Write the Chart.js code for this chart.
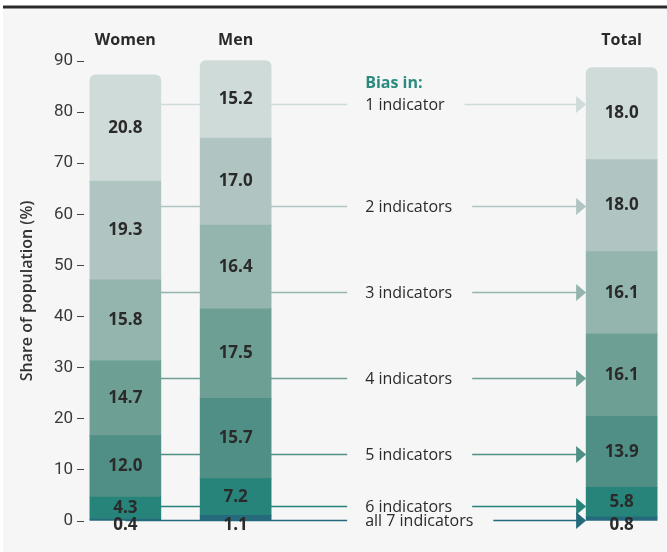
<!DOCTYPE html>
<html>
<head>
<meta charset="utf-8">
<script src="https://cdn.jsdelivr.net/npm/chart.js@4.4.1/dist/chart.umd.min.js"></script>
<style>
  html, body { margin: 0; padding: 0; background: #fff; }
  canvas { display: block; }
</style>
</head>
<body>
<canvas id="chart" width="667" height="552"></canvas>
<script>
// ---- data ----
const groups = ['Women', 'Men', 'Total'];
const indicatorNames = ['1 indicator', '2 indicators', '3 indicators', '4 indicators',
                        '5 indicators', '6 indicators', 'all 7 indicators'];
// share of population (%) with bias in n indicators, from 1 (top) down to all 7 (bottom)
const women = [20.8, 19.3, 15.8, 14.7, 12.0, 4.3, 0.4];
const men   = [15.2, 17.0, 16.4, 17.5, 15.7, 7.2, 1.1];
const total = [18.0, 18.0, 16.1, 16.1, 13.9, 5.8, 0.8];
// height (%) at which each indicator's guide line runs across to the Total column
const guideLevels = [81.6, 61.7, 44.9, 27.9, 13.1, 3.0, 0.1];
const yTicks = [0, 10, 20, 30, 40, 50, 60, 70, 80, 90];
const guideHeading = 'Bias in:';
const yTitle = 'Share of population (%)';

// ---- styles ----
const colors = ['#cfdbd9', '#b0c4c1', '#94b5ae', '#6e9f95', '#508f85', '#27847a', '#246a7c'];
const slots = [0, 2, 9];               // horizontal slot of each stack on the x scale
const BAR_W = 71;
const TEXT = '#2a2a2a';
const SANS = '"Open Sans", "Noto Sans", sans-serif';

// bottom of the stack first: "all 7" up to "1 indicator"
const datasets = [];
for (let i = indicatorNames.length - 1; i >= 0; i--) {
  datasets.push({
    label: indicatorNames[i],
    data: [women[i], men[i], total[i]].map((v, k) => ({ x: slots[k], y: v })),
    backgroundColor: colors[i],
    borderWidth: 0,
    borderRadius: i === 0 ? { topLeft: 6, topRight: 6, bottomLeft: 0, bottomRight: 0 } : 0,
    barThickness: BAR_W,
    clip: false,
    indicator: i
  });
}

const backdrop = {
  id: 'backdrop',
  beforeDraw(chart) {
    const { ctx, width, height } = chart;
    ctx.save();
    ctx.fillStyle = '#ffffff';
    ctx.fillRect(0, 0, width, height);
    ctx.fillStyle = '#f6f6f6';
    ctx.fillRect(3, 8.5, width - 3, height - 8.5);
    ctx.fillStyle = '#2b2b2b';
    ctx.fillRect(3, 5.5, width - 3, 3);
    ctx.restore();
  }
};

// guide lines with arrows from the Women/Men stacks to the Total stack
const guides = {
  id: 'guides',
  beforeDatasetsDraw(chart) {
    const { ctx } = chart;
    const yScale = chart.scales.y;
    const base = chart.getDatasetMeta(0).data;
    const womenX = base[0].x;
    const menRight = base[1].x + BAR_W / 2;
    const totalLeft = base[2].x - BAR_W / 2;
    const labelX = menRight + 94;
    ctx.save();
    ctx.font = '16px ' + SANS;
    ctx.textBaseline = 'middle';
    ctx.textAlign = 'left';
    indicatorNames.forEach((name, i) => {
      const py = Math.round(yScale.getPixelForValue(guideLevels[i])) + 0.5;
      const tw = ctx.measureText(name).width;
      ctx.strokeStyle = colors[i];
      ctx.fillStyle = colors[i];
      ctx.lineWidth = 1.6;
      ctx.beginPath();
      ctx.moveTo(womenX, py);
      ctx.lineTo(labelX - 18, py);
      ctx.moveTo(labelX + tw + 20, py);
      ctx.lineTo(totalLeft - 9, py);
      ctx.stroke();
      ctx.beginPath();
      ctx.moveTo(totalLeft - 10, py - 8.5);
      ctx.lineTo(totalLeft, py);
      ctx.lineTo(totalLeft - 10, py + 8.5);
      ctx.closePath();
      ctx.fill();
      ctx.fillStyle = TEXT;
      ctx.fillText(name, labelX, py + 1);
    });
    const firstY = yScale.getPixelForValue(guideLevels[0]);
    ctx.font = 'bold 16px ' + SANS;
    ctx.fillStyle = '#2b8a7e';
    ctx.fillText(guideHeading, labelX, firstY - 20);
    ctx.restore();
  }
};

// value printed in the middle of each segment
const valueLabels = {
  id: 'valueLabels',
  afterDatasetsDraw(chart) {
    const { ctx } = chart;
    ctx.save();
    ctx.font = 'bold 17px ' + SANS;
    ctx.fillStyle = TEXT;
    ctx.textAlign = 'center';
    ctx.textBaseline = 'middle';
    chart.data.datasets.forEach((ds, di) => {
      chart.getDatasetMeta(di).data.forEach((el, k) => {
        const h = el.base - el.y;
        const cy = h < 10 ? el.base + 5 : (el.y + el.base) / 2;
        ctx.fillText(ds.data[k].y.toFixed(1), el.x, cy);
      });
    });
    ctx.restore();
  }
};

new Chart(document.getElementById('chart'), {
  type: 'bar',
  data: { datasets },
  options: {
    responsive: false,
    devicePixelRatio: 1,
    animation: false,
    layout: { padding: { left: 0, right: 4, top: 0, bottom: 31 } },
    plugins: { legend: { display: false }, tooltip: { enabled: false } },
    scales: {
      x: {
        type: 'linear',
        position: 'top',
        stacked: true,
        offset: false,
        min: -0.75,
        max: 9.75,
        grid: { display: false, drawTicks: false },
        border: { display: false },
        afterFit(scale) { scale.height = 61; },
        afterBuildTicks(scale) { scale.ticks = slots.map(v => ({ value: v })); },
        ticks: {
          autoSkip: false,
          maxRotation: 0,
          padding: 11,
          color: TEXT,
          font: { family: SANS, size: 16, weight: 'bold' },
          callback: (v) => { const k = slots.indexOf(v); return k >= 0 ? groups[k] : ''; }
        }
      },
      y: {
        stacked: true,
        min: 0,
        max: 90,
        afterFit(scale) { scale.width = 84; },
        afterBuildTicks(scale) { scale.ticks = yTicks.map(v => ({ value: v })); },
        grid: { display: true, drawOnChartArea: false, drawTicks: true, tickLength: 7, color: '#444', lineWidth: 1 },
        border: { display: false },
        ticks: {
          padding: 4,
          color: '#3a3a3a',
          font: { family: '"Liberation Sans Narrow", "Roboto", sans-serif', size: 17 }
        },
        title: {
          display: true,
          text: yTitle,
          color: '#333',
          font: { family: SANS, size: 16, weight: '600' },
          padding: { top: 18, bottom: 0 }
        }
      }
    }
  },
  plugins: [backdrop, guides, valueLabels]
});
</script>
</body>
</html>
